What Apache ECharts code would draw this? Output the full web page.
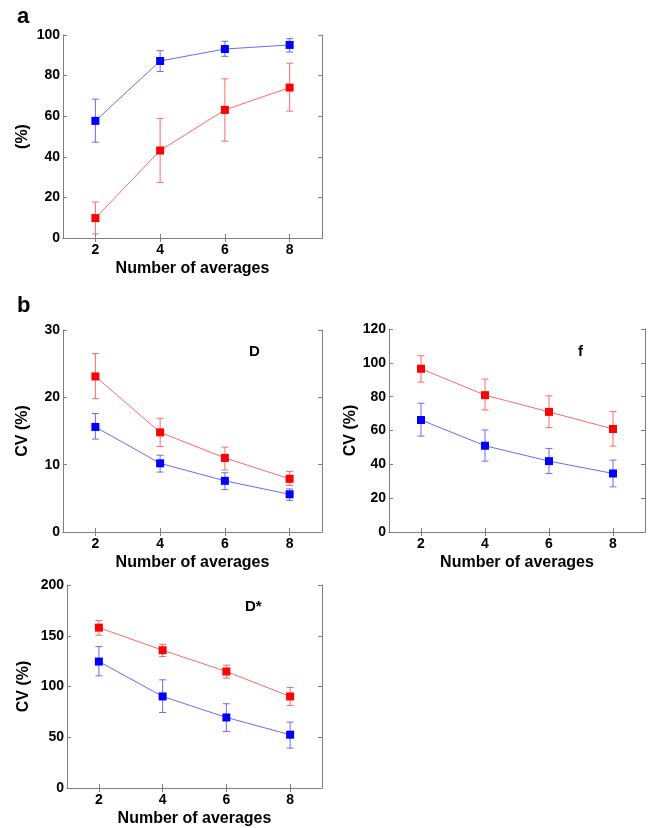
<!DOCTYPE html>
<html>
<head>
<meta charset="utf-8">
<script src="https://cdn.jsdelivr.net/npm/echarts@6/dist/echarts.min.js"></script>
<style>
  html, body { margin: 0; padding: 0; background: #fff; }
  #chart { width: 650px; height: 828px; }
</style>
</head>
<body>
<div id="chart"></div>
<script>
// Number of averages on every x axis
const averages = [2, 4, 6, 8];

// Panel a: percentage
const aBlueMean = [57.7, 87.2, 93.1, 95.1];
const aBlueLow  = [47.2, 82.0, 89.5, 91.6];
const aBlueHigh = [68.4, 92.3, 96.9, 98.2];
const aRedMean  = [9.8, 43.1, 63.1, 74.1];
const aRedLow   = [2.0, 27.4, 47.7, 62.5];
const aRedHigh  = [17.7, 58.9, 78.4, 86.1];

// Panel b, D: CV (%)
const dBlueMean = [15.6, 10.2, 7.6, 5.6];
const dBlueLow  = [13.8, 8.9, 6.3, 4.7];
const dBlueHigh = [17.6, 11.4, 8.8, 6.4];
const dRedMean  = [23.1, 14.8, 11.0, 7.9];
const dRedLow   = [19.8, 12.7, 9.2, 6.9];
const dRedHigh  = [26.5, 16.9, 12.6, 9.0];

// Panel b, f: CV (%)
const fBlueMean = [66.2, 51.0, 41.9, 34.6];
const fBlueLow  = [56.7, 41.9, 34.6, 26.7];
const fBlueHigh = [76.1, 60.3, 49.4, 42.5];
const fRedMean  = [96.5, 80.9, 71.0, 60.9];
const fRedLow   = [88.6, 72.2, 61.7, 50.8];
const fRedHigh  = [104.2, 90.4, 80.5, 71.2];

// Panel b, D*: CV (%)
const sBlueMean = [124.6, 90.2, 69.5, 52.5];
const sBlueLow  = [110.5, 74.4, 55.7, 39.3];
const sBlueHigh = [139.3, 106.6, 83.0, 64.9];
const sRedMean  = [158.0, 135.7, 114.8, 90.2];
const sRedLow   = [150.5, 129.5, 108.2, 81.3];
const sRedHigh  = [165.0, 141.6, 121.0, 99.0];

// Axis ranges
const xRange = [1, 9];
const aYAxis = { max: 100, step: 20 };
const dYAxis = { max: 30, step: 10 };
const fYAxis = { max: 120, step: 20 };
const sYAxis = { max: 200, step: 50 };

const FONT = "'Liberation Sans', Arial, sans-serif";
const FRAME = '#7f7f7f';
const RED = '#ff0000', BLUE = '#0000ff';
const RED_LINE = '#ff6a6a', BLUE_LINE = '#6a6aff';

const panels = [
  { grid: { left: 63, top: 35, width: 259, height: 203 }, y: aYAxis, yName: '(%)', yGap: 32,
    blue: [aBlueMean, aBlueLow, aBlueHigh], red: [aRedMean, aRedLow, aRedHigh] },
  { grid: { left: 63, top: 330, width: 259, height: 202 }, y: dYAxis, yName: 'CV (%)', yGap: 32,
    blue: [dBlueMean, dBlueLow, dBlueHigh], red: [dRedMean, dRedLow, dRedHigh] },
  { grid: { left: 389, top: 329, width: 256, height: 203 }, y: fYAxis, yName: 'CV (%)', yGap: 30,
    blue: [fBlueMean, fBlueLow, fBlueHigh], red: [fRedMean, fRedLow, fRedHigh] },
  { grid: { left: 67, top: 585, width: 255, height: 203 }, y: sYAxis, yName: 'CV (%)', yGap: 35,
    blue: [sBlueMean, sBlueLow, sBlueHigh], red: [sRedMean, sRedLow, sRedHigh] }
];

function errorBars(color) {
  return function (params, api) {
    const x = api.value(0);
    const lo = api.coord([x, api.value(1)]);
    const hi = api.coord([x, api.value(2)]);
    const h = 3.5;
    const st = { stroke: color, lineWidth: 1 };
    return {
      type: 'group',
      children: [
        { type: 'line', shape: { x1: lo[0], y1: lo[1], x2: hi[0], y2: hi[1] }, style: st },
        { type: 'line', shape: { x1: lo[0] - h, y1: lo[1], x2: lo[0] + h, y2: lo[1] }, style: st },
        { type: 'line', shape: { x1: hi[0] - h, y1: hi[1], x2: hi[0] + h, y2: hi[1] }, style: st }
      ]
    };
  };
}

const grid = [], xAxis = [], yAxis = [], series = [];
const labelStyle = { color: '#000', fontFamily: FONT, fontWeight: 'bold', fontSize: 14 };

panels.forEach((p, i) => {
  grid.push(Object.assign({ containLabel: false, show: false }, p.grid));
  const xBase = {
    type: 'value', gridIndex: i, min: xRange[0], max: xRange[1],
    axisLine: { show: true, lineStyle: { color: FRAME, width: 1 } },
    axisTick: { show: true, inside: true, length: 4, customValues: averages, lineStyle: { color: FRAME } },
    splitLine: { show: false }
  };
  xAxis.push(Object.assign({}, xBase, {
    position: 'bottom',
    name: 'Number of averages', nameLocation: 'middle', nameGap: 23,
    nameTextStyle: { color: '#000', fontFamily: FONT, fontWeight: 'bold', fontSize: 16 },
    axisLabel: Object.assign({ show: true, margin: 5, customValues: averages }, labelStyle)
  }));
  xAxis.push(Object.assign({}, xBase, { position: 'top', axisLabel: { show: false } }));

  const yBase = {
    type: 'value', gridIndex: i, min: 0, max: p.y.max, interval: p.y.step,
    axisLine: { show: true, lineStyle: { color: FRAME, width: 1 } },
    axisTick: { show: true, inside: true, length: 4, lineStyle: { color: FRAME } },
    splitLine: { show: false }
  };
  yAxis.push(Object.assign({}, yBase, {
    position: 'left',
    name: p.yName, nameLocation: 'middle', nameGap: p.yGap, nameRotate: 90,
    nameTextStyle: { color: '#000', fontFamily: FONT, fontWeight: 'bold', fontSize: 16 },
    axisLabel: Object.assign({ show: true, margin: 3 }, labelStyle)
  }));
  yAxis.push(Object.assign({}, yBase, { position: 'right', axisLabel: { show: false } }));

  const xi = 2 * i, yi = 2 * i;
  [['blue', BLUE, BLUE_LINE], ['red', RED, RED_LINE]].forEach(([key, mark, line]) => {
    const [mean, low, high] = p[key];
    series.push({
      type: 'custom', xAxisIndex: xi, yAxisIndex: yi,
      renderItem: errorBars(line),
      data: averages.map((a, k) => [a, low[k], high[k]]),
      silent: true, z: 2
    });
    series.push({
      type: 'line', xAxisIndex: xi, yAxisIndex: yi,
      data: averages.map((a, k) => [a, mean[k]]),
      symbol: 'rect', symbolSize: 8,
      itemStyle: { color: mark },
      lineStyle: { color: line, width: 1 },
      animation: false, silent: true, z: 3
    });
  });
});

const chart = echarts.init(document.getElementById('chart'), null, { renderer: 'canvas' });
chart.setOption({
  animation: false,
  backgroundColor: '#fff',
  grid, xAxis, yAxis, series,
  graphic: [
    { type: 'text', left: 17, top: 6, style: { text: 'a', fontFamily: FONT, fontWeight: 'bold', fontSize: 22, fill: '#000' } },
    { type: 'text', left: 17, top: 295, style: { text: 'b', fontFamily: FONT, fontWeight: 'bold', fontSize: 22, fill: '#000' } },
    { type: 'text', left: 249, top: 344, style: { text: 'D', fontFamily: FONT, fontWeight: 'bold', fontSize: 15, fill: '#000' } },
    { type: 'text', left: 578, top: 344, style: { text: 'f', fontFamily: FONT, fontWeight: 'bold', fontSize: 15, fill: '#000' } },
    { type: 'text', left: 245, top: 599, style: { text: 'D*', fontFamily: FONT, fontWeight: 'bold', fontSize: 15, fill: '#000' } }
  ]
});
</script>
</body>
</html>
